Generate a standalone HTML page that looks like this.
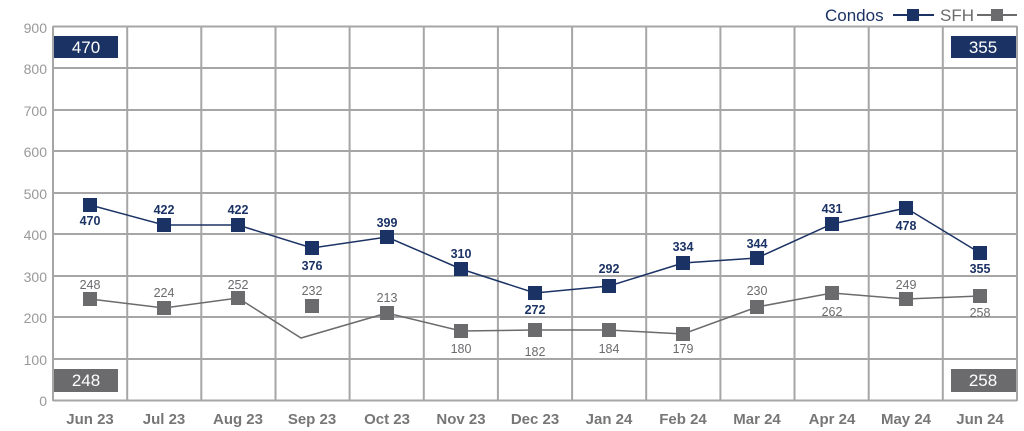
<!DOCTYPE html>
<html><head><meta charset="utf-8"><style>
html,body{margin:0;padding:0;background:#fff;}
svg{display:block;font-family:"Liberation Sans",Arial,sans-serif;}
</style></head><body>
<svg width="1024" height="431" viewBox="0 0 1024 431" xmlns="http://www.w3.org/2000/svg">
<g stroke="#a6a6a6" stroke-width="2" fill="none">
<line x1="53" y1="26.5" x2="1017" y2="26.5"/>
<line x1="53" y1="68" x2="1017" y2="68"/>
<line x1="53" y1="110" x2="1017" y2="110"/>
<line x1="53" y1="151" x2="1017" y2="151"/>
<line x1="53" y1="193" x2="1017" y2="193"/>
<line x1="53" y1="234" x2="1017" y2="234"/>
<line x1="53" y1="276" x2="1017" y2="276"/>
<line x1="53" y1="317" x2="1017" y2="317"/>
<line x1="53" y1="359" x2="1017" y2="359"/>
<line x1="53" y1="400.5" x2="1017" y2="400.5"/>
<line x1="53" y1="26" x2="53" y2="401"/>
<line x1="127.2" y1="26" x2="127.2" y2="401"/>
<line x1="201.3" y1="26" x2="201.3" y2="401"/>
<line x1="275.5" y1="26" x2="275.5" y2="401"/>
<line x1="349.6" y1="26" x2="349.6" y2="401"/>
<line x1="423.8" y1="26" x2="423.8" y2="401"/>
<line x1="497.9" y1="26" x2="497.9" y2="401"/>
<line x1="572.1" y1="26" x2="572.1" y2="401"/>
<line x1="646.2" y1="26" x2="646.2" y2="401"/>
<line x1="720.4" y1="26" x2="720.4" y2="401"/>
<line x1="794.5" y1="26" x2="794.5" y2="401"/>
<line x1="868.7" y1="26" x2="868.7" y2="401"/>
<line x1="942.8" y1="26" x2="942.8" y2="401"/>
<line x1="1017" y1="26" x2="1017" y2="401"/>
</g>
<g font-size="14" fill="#999" text-anchor="end">
<text x="47" y="33">900</text><text x="47" y="74">800</text><text x="47" y="116">700</text>
<text x="47" y="157">600</text><text x="47" y="199">500</text><text x="47" y="240">400</text>
<text x="47" y="282">300</text><text x="47" y="323">200</text><text x="47" y="365">100</text>
<text x="47" y="406">0</text>
</g>
<g font-size="15" fill="#555" text-anchor="middle" font-weight="bold" opacity="0.8">
<text x="90" y="424">Jun 23</text><text x="164" y="424">Jul 23</text><text x="238" y="424">Aug 23</text>
<text x="312" y="424">Sep 23</text><text x="387" y="424">Oct 23</text><text x="461" y="424">Nov 23</text>
<text x="535" y="424">Dec 23</text><text x="609" y="424">Jan 24</text><text x="683" y="424">Feb 24</text>
<text x="757" y="424">Mar 24</text><text x="832" y="424">Apr 24</text><text x="906" y="424">May 24</text>
<text x="980" y="424">Jun 24</text>
</g>
<!-- SFH -->
<polyline fill="none" stroke="#6b6b6e" stroke-width="1.5" points="90,299 164,308 238,298 301,338 387,313 461,331 535,330 609,330 683,334 757,307 832,293 906,299 980,296"/>
<g fill="#6b6b6e">
<rect x="83" y="292" width="14" height="14"/><rect x="157" y="301" width="14" height="14"/>
<rect x="231" y="291" width="14" height="14"/><rect x="305" y="299" width="14" height="14"/>
<rect x="380" y="306" width="14" height="14"/><rect x="454" y="324" width="14" height="14"/>
<rect x="528" y="323" width="14" height="14"/><rect x="602" y="323" width="14" height="14"/>
<rect x="676" y="327" width="14" height="14"/><rect x="750" y="300" width="14" height="14"/>
<rect x="825" y="286" width="14" height="14"/><rect x="899" y="292" width="14" height="14"/>
<rect x="973" y="289" width="14" height="14"/>
</g>
<g font-size="12.5" fill="#6b6b6e" text-anchor="middle">
<text x="90" y="289">248</text><text x="164" y="297">224</text><text x="238" y="289">252</text>
<text x="312" y="295">232</text><text x="387" y="302">213</text><text x="461" y="353">180</text>
<text x="535" y="356">182</text><text x="609" y="353">184</text><text x="683" y="353">179</text>
<text x="757" y="295">230</text><text x="832" y="316">262</text><text x="906" y="289">249</text>
<text x="980" y="317">258</text>
</g>
<!-- Condos -->
<polyline fill="none" stroke="#1b3265" stroke-width="1.5" points="90,205 164,225 238,225 312,248 387,237 461,269 535,293 609,286 683,263 757,258 832,224 906,208 980,253"/>
<g fill="#1b3265">
<rect x="83" y="198" width="14" height="14"/><rect x="157" y="218" width="14" height="14"/>
<rect x="231" y="218" width="14" height="14"/><rect x="305" y="241" width="14" height="14"/>
<rect x="380" y="230" width="14" height="14"/><rect x="454" y="262" width="14" height="14"/>
<rect x="528" y="286" width="14" height="14"/><rect x="602" y="279" width="14" height="14"/>
<rect x="676" y="256" width="14" height="14"/><rect x="750" y="251" width="14" height="14"/>
<rect x="825" y="217" width="14" height="14"/><rect x="899" y="201" width="14" height="14"/>
<rect x="973" y="246" width="14" height="14"/>
</g>
<g font-size="12.5" fill="#1b3265" text-anchor="middle" font-weight="bold">
<text x="90" y="225">470</text><text x="164" y="214">422</text><text x="238" y="214">422</text>
<text x="312" y="270">376</text><text x="387" y="227">399</text><text x="461" y="258">310</text>
<text x="535" y="314">272</text><text x="609" y="273">292</text><text x="683" y="251">334</text>
<text x="757" y="248">344</text><text x="832" y="213">431</text><text x="906" y="230">478</text>
<text x="980" y="273">355</text>
</g>
<!-- boxes -->
<rect x="54" y="36" width="64" height="22" fill="#1b3265"/>
<text x="86" y="53" font-size="17" fill="#fff" text-anchor="middle">470</text>
<rect x="951" y="36" width="65" height="22" fill="#1b3265"/>
<text x="983" y="53" font-size="17" fill="#fff" text-anchor="middle">355</text>
<rect x="54" y="369" width="64" height="23" fill="#6b6b6e"/>
<text x="86" y="386" font-size="17" fill="#fff" text-anchor="middle">248</text>
<rect x="951" y="369" width="65" height="23" fill="#6b6b6e"/>
<text x="983" y="386" font-size="17" fill="#fff" text-anchor="middle">258</text>
<!-- legend -->
<text x="825" y="21" font-size="17" fill="#1b3265">Condos</text>
<line x1="893" y1="15" x2="934" y2="15" stroke="#1b3265" stroke-width="2"/>
<rect x="907" y="9" width="12" height="12" fill="#1b3265"/>
<text x="940" y="21" font-size="17" fill="#6b6b6e">SFH</text>
<line x1="977" y1="15" x2="1017" y2="15" stroke="#6b6b6e" stroke-width="2"/>
<rect x="991" y="9" width="12" height="12" fill="#6b6b6e"/>
</svg>
</body></html>
